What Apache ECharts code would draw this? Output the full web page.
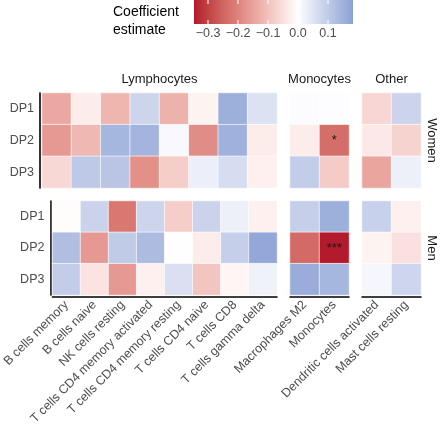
<!DOCTYPE html>
<html><head><meta charset="utf-8">
<script src="https://cdn.jsdelivr.net/npm/echarts@6/dist/echarts.min.js"></script>
<style>html,body{margin:0;padding:0;background:#fff}#c{width:440px;height:428px}</style>
</head><body><div id="c"></div>
<script>
// ---------- data ----------
const rowLabels = ['DP1', 'DP2', 'DP3'];
const sexes = ['Women', 'Men'];
const groups = ['Lymphocytes', 'Monocytes', 'Other'];
const lymphCells = ['B cells memory', 'B cells naive', 'NK cells resting', 'T cells CD4 memory activated',
  'T cells CD4 memory resting', 'T cells CD4 naive', 'T cells CD8', 'T cells gamma delta'];
const monoCells = ['Macrophages M2', 'Monocytes'];
const otherCells = ['Dendritic cells activated', 'Mast cells resting'];

const womenLymph = [
  [-0.14, -0.03, -0.12, 0.08, -0.125, -0.02, 0.155, 0.055],
  [-0.165, -0.115, 0.14, 0.145, 0.01, -0.185, 0.15, -0.03],
  [-0.062, 0.103, 0.11, -0.18, -0.08, 0.03, 0.065, -0.025]
];
const womenMono = [[0.005, 0.004], [-0.03, -0.235], [0.096, -0.083]];
const womenOther = [[-0.065, 0.082], [-0.035, -0.07], [-0.145, 0.028]];
const menLymph = [
  [-0.003, 0.085, -0.22, 0.08, -0.08, 0.085, 0.028, -0.025],
  [0.125, -0.165, 0.1, 0.13, 0.0, -0.03, 0.09, 0.17],
  [0.095, -0.045, -0.165, -0.025, 0.06, -0.093, -0.015, 0.025]
];
const menMono = [[0.09, 0.155], [-0.24, -0.345], [0.16, 0.14]];
const menOther = [[0.088, -0.025], [-0.02, -0.05], [0.015, 0.077]];

const womenMonoSig = [['', ''], ['', '*'], ['', '']];
const menMonoSig = [['', ''], ['', '***'], ['', '']];

const legendTicks = [-0.3, -0.2, -0.1, 0.0, 0.1];
const scaleMin = -0.3467, scaleMax = 0.1833;

// ---------- colour scale (Lab interpolation) ----------
function hex2rgb(h){h=h.replace('#','');return [0,2,4].map(i=>parseInt(h.substr(i,2),16));}
function rgb2lab(c){
  let [r,g,b]=c.map(v=>{v/=255;return v>0.04045?Math.pow((v+0.055)/1.055,2.4):v/12.92;});
  let x=(r*0.4124+g*0.3576+b*0.1805)/0.95047, y=(r*0.2126+g*0.7152+b*0.0722), z=(r*0.0193+g*0.1192+b*0.9505)/1.08883;
  const f=t=>t>0.008856?Math.cbrt(t):(7.787*t+16/116);
  x=f(x);y=f(y);z=f(z);
  return [116*y-16, 500*(x-y), 200*(y-z)];
}
function lab2hex(l){
  let y=(l[0]+16)/116, x=l[1]/500+y, z=y-l[2]/200;
  const fi=t=>{const t3=t*t*t;return t3>0.008856?t3:(t-16/116)/7.787;};
  x=fi(x)*0.95047;y=fi(y);z=fi(z)*1.08883;
  let r=x*3.2406+y*-1.5372+z*-0.4986, g=x*-0.9689+y*1.8758+z*0.0415, b=x*0.0557+y*-0.2040+z*1.0570;
  return '#'+[r,g,b].map(v=>{v=v>0.0031308?1.055*Math.pow(v,1/2.4)-0.055:12.92*v;v=Math.round(Math.max(0,Math.min(1,v))*255);return v.toString(16).padStart(2,'0');}).join('');
}
const LOW=rgb2lab(hex2rgb('#b2182b')), MID=rgb2lab(hex2rgb('#ffffff')), HIGH=rgb2lab(hex2rgb('#8aa1d5'));
function colorAt(v){
  let a,b,t;
  if(v<0){a=MID;b=LOW;t=Math.min(1,v/scaleMin);} else {a=MID;b=HIGH;t=Math.min(1,v/scaleMax);}
  return lab2hex(a.map((x,i)=>x+(b[i]-x)*t));
}
const nStops=120, stopColors=[];
for(let i=0;i<=nStops;i++) stopColors.push(colorAt(scaleMin+(scaleMax-scaleMin)*i/nStops));

// ---------- layout ----------
const FONT='"Liberation Sans", Arial, sans-serif';
const colLayout=[{left:42,width:235},{left:290,width:59},{left:362,width:59}];
const rowLayout=[{top:93,height:95},{top:201,height:94}];
const cats=[lymphCells,monoCells,otherCells];
const vals=[[womenLymph,womenMono,womenOther],[menLymph,menMono,menOther]];
const sigs=[[null,womenMonoSig,null],[null,menMonoSig,null]];

const grids=[],xAxes=[],yAxes=[],series=[];
let gi=0;
for(let r=0;r<2;r++){
  for(let c=0;c<3;c++){
    grids.push({left:colLayout[c].left,top:rowLayout[r].top,width:colLayout[c].width,height:rowLayout[r].height});
    xAxes.push({type:'category',gridIndex:gi,data:cats[c],offset:2,
      axisLine:{show:r===1,lineStyle:{color:'#000',width:1.6}},axisTick:{show:false},splitLine:{show:false},
      axisLabel:{show:r===1,rotate:45,interval:0,margin:6,color:'#4d4d4d',fontSize:12.5,fontFamily:FONT}});
    yAxes.push({type:'category',gridIndex:gi,data:rowLabels,inverse:true,offset:2,
      axisLine:{show:c===0,lineStyle:{color:'#000',width:1.6}},axisTick:{show:false},splitLine:{show:false},
      axisLabel:{show:c===0,margin:6,color:'#4d4d4d',fontSize:12.5,fontFamily:FONT}});
    const data=[];const m=vals[r][c];const sg=sigs[r][c];
    for(let i=0;i<m.length;i++)for(let j=0;j<m[i].length;j++){
      data.push({value:[j,i,m[i][j]],sig:sg?sg[i][j]:''});
    }
    series.push({type:'heatmap',xAxisIndex:gi,yAxisIndex:gi,data:data,
      itemStyle:{borderColor:'rgba(255,255,255,0.8)',borderWidth:0.8},
      label:{show:true,formatter:p=>p.data.sig||'',color:'#1a1a1a',fontSize:13,fontFamily:FONT},
      emphasis:{disabled:true}});
    gi++;
  }
}

// legend graphics
const barL=194,barR=353,barT=0,barB=24;
const gradStops=stopColors.map((col,i)=>({offset:i/nStops,color:col}));
const graphic=[
  {type:'text',left:113,top:5,style:{text:'Coefficient',font:'14px '+FONT,fill:'#000'}},
  {type:'text',left:113,top:23,style:{text:'estimate',font:'14px '+FONT,fill:'#000'}},
  {type:'rect',shape:{x:barL,y:barT,width:barR-barL,height:barB-barT},
    style:{fill:new echarts.graphic.LinearGradient(0,0,1,0,gradStops)}}
];
legendTicks.forEach(v=>{
  const x=barL+(v-scaleMin)/(scaleMax-scaleMin)*(barR-barL);
  graphic.push({type:'line',shape:{x1:x,y1:barT,x2:x,y2:barT+4},style:{stroke:'#fff',lineWidth:1}});
  graphic.push({type:'line',shape:{x1:x,y1:barB-4,x2:x,y2:barB},style:{stroke:'#fff',lineWidth:1}});
  graphic.push({type:'text',x:x,y:34,style:{text:(v<0?'\u2212':'')+Math.abs(v).toFixed(1),font:'12.5px '+FONT,fill:'#4d4d4d',textAlign:'center',textVerticalAlign:'middle'}});
});
groups.forEach((g,c)=>{
  graphic.push({type:'text',x:colLayout[c].left+colLayout[c].width/2,y:79,style:{text:g,font:'13px '+FONT,fill:'#1a1a1a',textAlign:'center',textVerticalAlign:'middle'}});
});
sexes.forEach((s,r)=>{
  graphic.push({type:'text',x:432,y:rowLayout[r].top+rowLayout[r].height/2,rotation:-Math.PI/2,
    style:{text:s,font:'13px '+FONT,fill:'#1a1a1a',textAlign:'center',textVerticalAlign:'middle'}});
});

const chart=echarts.init(document.getElementById('c'),null,{renderer:'canvas'});
chart.setOption({
  animation:false,
  backgroundColor:'#fff',
  grid:grids,xAxis:xAxes,yAxis:yAxes,series:series,
  visualMap:{type:'continuous',show:false,min:scaleMin,max:scaleMax,dimension:2,
    seriesIndex:series.map((_,i)=>i),inRange:{color:stopColors}},
  graphic:graphic
});
</script></body></html>
